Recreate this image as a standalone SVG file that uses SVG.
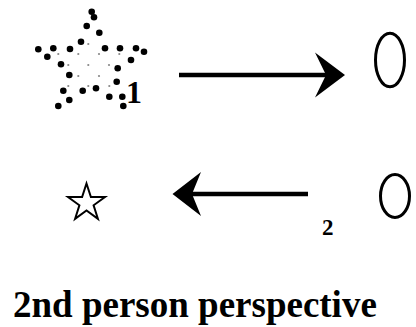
<svg xmlns="http://www.w3.org/2000/svg" width="416" height="327" viewBox="0 0 416 327">
<style>
.d{fill:#000}
.g{fill:#888}
.lbl{font-weight:bold;fill:#000}
.ell{fill:none;stroke:#000;stroke-width:3}
.ln{stroke:#000;stroke-width:4.5;fill:none}
.hd{fill:#000}
</style>
<rect width="416" height="327" fill="#fff"/>
<g id="star-dotted">
<g class="d">
<circle cx="91.7" cy="11.7" r="3.3"/><circle cx="94" cy="17.3" r="3.3"/><circle cx="86.7" cy="26" r="3.3"/><circle cx="99.3" cy="32.7" r="3.3"/><circle cx="81" cy="41.7" r="3.3"/>
<circle cx="38.3" cy="49.3" r="3.3"/><circle cx="53.3" cy="48.3" r="3.3"/><circle cx="47.3" cy="56.7" r="3.3"/><circle cx="70" cy="49" r="3.3"/>
<circle cx="105" cy="48.3" r="3.3"/><circle cx="120" cy="48.3" r="3.3"/><circle cx="136" cy="48.3" r="3.3"/><circle cx="144" cy="51.7" r="3.3"/><circle cx="131" cy="60" r="3.3"/>
<circle cx="61" cy="64.3" r="3.3"/><circle cx="117.7" cy="68.3" r="3.3"/><circle cx="69.3" cy="75" r="3.3"/><circle cx="116.7" cy="81.7" r="3.3"/>
<circle cx="63.3" cy="90.7" r="3.3"/><circle cx="82.7" cy="90.7" r="3.3"/><circle cx="96" cy="88.3" r="3.3"/><circle cx="109.3" cy="96.7" r="3.3"/><circle cx="122.3" cy="96.7" r="3.3"/>
<circle cx="123.3" cy="106" r="3.3"/><circle cx="69.3" cy="100" r="3.3"/><circle cx="58.3" cy="106" r="3.3"/>
</g>
<g class="g">
<circle cx="88.3" cy="44" r="1.1"/><circle cx="58.3" cy="54" r="1.1"/><circle cx="78.3" cy="54" r="1.1"/><circle cx="99" cy="54" r="1.1"/><circle cx="119.3" cy="54" r="1.1"/>
<circle cx="68.3" cy="65" r="1.1"/><circle cx="88.3" cy="65" r="1.1"/><circle cx="109" cy="65" r="1.1"/><circle cx="78.3" cy="76" r="1.1"/><circle cx="99" cy="76" r="1.1"/>
<circle cx="68.3" cy="86" r="1.1"/><circle cx="88.3" cy="86" r="1.1"/><circle cx="109.3" cy="86" r="1.1"/>
</g>
</g>
<g id="label-1"><text class="lbl" font-family="'Liberation Serif', 'Times New Roman', Times, serif" x="126" y="103" font-size="32">1</text></g>
<g id="ellipse-1"><ellipse class="ell" cx="390" cy="60" rx="14.5" ry="26.8"/></g>
<g id="star-small"><polygon points="86.5,183.5 90.9,197.0 105.0,197.0 93.6,205.3 97.9,218.8 86.5,210.5 75.1,218.8 79.4,205.3 68.0,197.0 82.1,197.0" fill="#fff" stroke="#000" stroke-width="2" stroke-linejoin="miter"/></g>
<g id="ellipse-2"><ellipse class="ell" cx="395" cy="196" rx="14.5" ry="21.5"/></g>
<g id="label-2"><text class="lbl" font-family="'Liberation Serif', 'Times New Roman', Times, serif" x="322" y="235" font-size="23">2</text></g>
<g id="connectors">
<line class="ln" x1="179" y1="75" x2="327" y2="75"/>
<polygon class="hd" points="345,75 315,52.5 326,75 315,97.5"/>
<line class="ln" x1="191" y1="194" x2="308" y2="194"/>
<polygon class="hd" points="172.5,194 201,172 192,194 201,216"/>
</g>
<g id="title"><text class="lbl" font-family="'Liberation Serif', 'Times New Roman', Times, serif" x="13" y="317" font-size="37">2nd person perspective</text></g>
</svg>
